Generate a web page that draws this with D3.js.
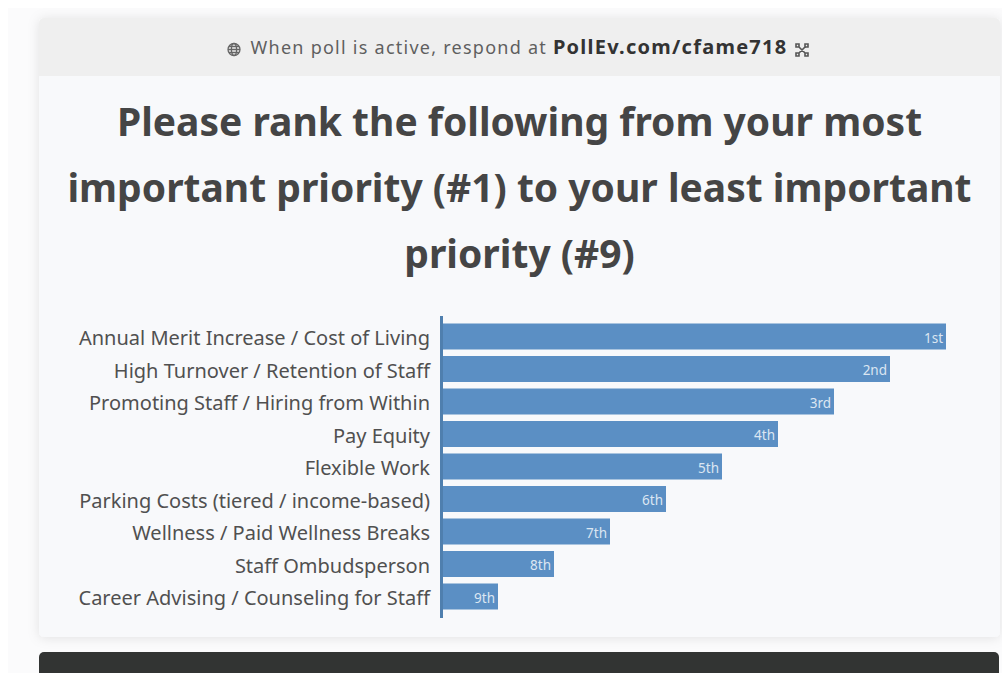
<!DOCTYPE html>
<html>
<head>
<meta charset="utf-8">
<script src="https://cdn.jsdelivr.net/npm/d3@7/dist/d3.min.js"></script>
<style>
  html, body { margin: 0; padding: 0; background: #fff; overflow: hidden; }
  text { font-family: "Noto Sans", sans-serif; }
</style>
</head>
<body>
<svg id="chart" width="1002" height="673"></svg>
<script>
const categories = [
  "Annual Merit Increase / Cost of Living",
  "High Turnover / Retention of Staff",
  "Promoting Staff / Hiring from Within",
  "Pay Equity",
  "Flexible Work",
  "Parking Costs (tiered / income-based)",
  "Wellness / Paid Wellness Breaks",
  "Staff Ombudsperson",
  "Career Advising / Counseling for Staff"
];
const scores = [9, 8, 7, 6, 5, 4, 3, 2, 1];
const rankLabels = ["1st", "2nd", "3rd", "4th", "5th", "6th", "7th", "8th", "9th"];
const titleLines = [
  "Please rank the following from your most",
  "important priority (#1) to your least important",
  "priority (#9)"
];

const svg = d3.select("#chart");

// Soft shadow under the poll card
const defs = svg.append("defs");
const shadow = defs.append("filter").attr("id", "cardShadow")
  .attr("x", "-5%").attr("y", "-5%").attr("width", "110%").attr("height", "110%");
shadow.append("feDropShadow").attr("dx", 0).attr("dy", 1).attr("stdDeviation", 6)
  .attr("flood-color", "#000").attr("flood-opacity", 0.10);

// Page backdrop
svg.append("rect").attr("x", 8).attr("y", 8).attr("width", 994).attr("height", 665).attr("fill", "#fbfbfc");

// Card body and its header band
svg.append("rect").attr("x", 39).attr("y", 18).attr("width", 961).attr("height", 619)
  .attr("rx", 5).attr("fill", "#f8f9fb").attr("filter", "url(#cardShadow)");
svg.append("path").attr("d", "M39 76V23a5 5 0 0 1 5-5H995a5 5 0 0 1 5 5V76Z").attr("fill", "#efefef");

// Dark footer bar, cut off by the bottom edge
svg.append("path").attr("d", "M39 673V657a5 5 0 0 1 5-5H994a5 5 0 0 1 5 5V673Z").attr("fill", "#323433");

// Header line with globe and command glyphs
const header = svg.append("text").attr("x", 519).attr("y", 54)
  .attr("text-anchor", "middle").attr("font-size", 18).attr("letter-spacing", 1.25).attr("fill", "#5f5f5f")
  .attr("xml:space", "preserve");
header.append("tspan").text("When poll is active, respond at ");
header.append("tspan").attr("font-weight", 700).attr("fill", "#333").attr("font-size", 20).text("PollEv.com/cfame718");

const globe = svg.append("g").attr("transform", "translate(234,49.5)")
  .attr("fill", "none").attr("stroke", "#666").attr("stroke-width", 1.3);
globe.append("circle").attr("r", 6);
globe.append("ellipse").attr("rx", 2.6).attr("ry", 6);
globe.append("path").attr("d", "M-6 0H6M-5 -3H5M-5 3H5");

const cmd = svg.append("g").attr("transform", "translate(802,50)")
  .attr("fill", "none").attr("stroke", "#555").attr("stroke-width", 1.6);
cmd.append("path").attr("d", "M-3 -3L3 3M3 -3L-3 3M-3 -3H-6V-6H-3V-3M3 -3H6V-6H3V-3M-3 3H-6V6H-3V3M3 3H6V6H3V3");

// Question title
svg.append("g").selectAll("text").data(titleLines).join("text")
  .attr("x", 519.5)
  .attr("y", (d, i) => 135.5 + i * 66)
  .attr("text-anchor", "middle")
  .attr("font-size", 39)
  .attr("font-weight", 700)
  .attr("fill", "#454545")
  .text(d => d);

// Scales: one score unit spans 56 px
const x = d3.scaleLinear().domain([0, 9]).range([442, 946]);
const y = d3.scaleBand().domain(categories).range([320.25, 612.75]).paddingInner(0.2).paddingOuter(0.1);

// Horizontal bars
svg.append("g").selectAll("rect").data(categories).join("rect")
  .attr("x", x(0))
  .attr("y", d => y(d))
  .attr("width", (d, i) => x(scores[i]) - x(0))
  .attr("height", y.bandwidth())
  .attr("fill", "#5b8fc4");

// Rank labels inside the bar ends
svg.append("g").selectAll("text").data(categories).join("text")
  .attr("x", (d, i) => x(scores[i]) - 3)
  .attr("y", d => y(d) + y.bandwidth() / 2 + 1.5)
  .attr("dy", "0.35em")
  .attr("text-anchor", "end")
  .attr("font-size", 13.5)
  .attr("fill", "#dbe6f2")
  .text((d, i) => rankLabels[i]);

// Category axis drawn by d3, with the domain line as the bar baseline
const axis = d3.axisLeft(y).tickSize(0).tickPadding(11.5);
const axisG = svg.append("g").attr("transform", `translate(${x(0) - 0.5},0)`).call(axis);
axisG.select(".domain")
  .attr("d", "M0,316V618")
  .attr("stroke", "#4f7fae")
  .attr("stroke-width", 3);
axisG.selectAll("text")
  .attr("font-size", 20)
  .attr("font-family", '"Noto Sans", sans-serif')
  .attr("fill", "#505050")
  .attr("transform", "translate(0,2.5)");
</script>
</body>
</html>
